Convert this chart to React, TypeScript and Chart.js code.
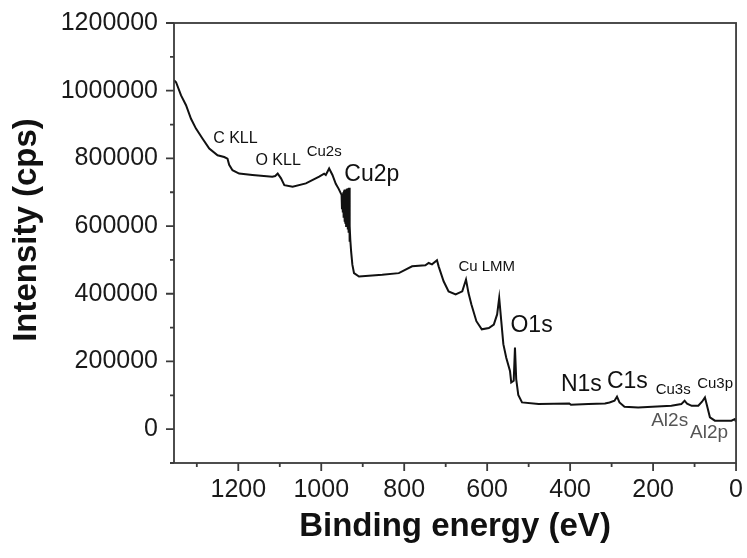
import React, { useEffect, useRef } from 'react';
import { Chart, registerables } from 'chart.js';

Chart.register(...registerables);

// Survey XPS spectrum: binding energy (eV) and intensity (cps)
const energy = [
  1355, 1350, 1338, 1326, 1314, 1302, 1286, 1270, 1250, 1234, 1226, 1222, 1214, 1198, 1166,
  1118, 1111, 1105, 1097, 1089, 1069, 1037, 1005, 993, 989, 981, 973, 965, 958, 951,
  950, 949, 948, 947, 946, 945, 944, 943, 942, 941, 940, 939, 938, 937, 936,
  935, 934, 933, 932, 931, 930, 928, 925, 921, 909, 853,
  813, 781, 749, 741, 733, 721, 717, 705, 693, 676, 660, 651, 645, 638, 626,
  613, 596, 584, 576, 571, 566, 561, 554, 545, 542, 536, 533, 530, 525, 516,
  476, 402, 398, 356, 316, 305, 293, 287, 281, 269, 236, 156, 132, 124, 118,
  107, 91, 82, 75, 71, 63, 51, 11, 3, 0,
];
const intensity = [
  1031000, 1025000, 986000, 957000, 917000, 888000, 858000, 829000, 809000, 804000, 799000, 781000, 765000, 755000, 751000,
  746000, 748000, 755000, 741000, 721000, 716000, 726000, 746000, 755000, 751000, 770000, 751000, 725000, 710000, 692000,
  650000, 690000, 640000, 700000, 625000, 705000, 613000, 708000, 610000, 706000, 600000, 710000, 605000, 711000, 590000,
  712000, 580000, 713000, 554000, 600000, 560000, 525000, 486000, 461000, 451000, 456000,
  461000, 481000, 484000, 491000, 487000, 499000, 481000, 437000, 407000, 398000, 407000, 442000, 402000, 368000, 319000,
  295000, 299000, 309000, 339000, 388000, 319000, 251000, 211000, 172000, 138000, 143000, 241000, 148000, 101000, 79000,
  74000, 76000, 72000, 74000, 76000, 79000, 84000, 96000, 79000, 66000, 64000, 69000, 74000, 84000, 75000,
  69000, 69000, 81000, 93500, 74000, 35000, 25000, 25000, 30000, 22000,
];

// Axis ranges and tick steps
const xMin = 0;
const xMax = 1355;
const yMin = -100000;
const yMax = 1200000;
const xMajorStep = 200;
const xMinorStep = 100;
const yMajorStep = 200000;
const yMinorStep = 100000;

const xTitle = 'Binding energy (eV)';
const yTitle = 'Intensity (cps)';

// Peak annotations, anchored in data units (energy, intensity)
const peakNames = ['C KLL', 'O KLL', 'Cu2s', 'Cu2p', 'Cu LMM', 'O1s', 'N1s', 'C1s', 'Cu3s', 'Cu3p', 'Al2s', 'Al2p'];
const peakEnergy = [1207, 1104, 993, 878, 601, 493, 373, 262, 151.5, 50.5, 160, 65];
const peakIntensity = [857400, 792700, 819100, 751500, 480900, 304400, 130900, 139700, 116200, 133800, 25000, -10300];

const FONT = "'Liberation Sans', Arial, Helvetica, sans-serif";
const AXIS_COLOR = '#3a3a3a';
const labelStyle: Record<string, { size: number; color: string }> = {
  'C KLL': { size: 16, color: '#111' },
  'O KLL': { size: 16, color: '#111' },
  'Cu2s': { size: 15, color: '#111' },
  'Cu2p': { size: 23, color: '#111' },
  'Cu LMM': { size: 15, color: '#111' },
  'O1s': { size: 23, color: '#111' },
  'N1s': { size: 23, color: '#111' },
  'C1s': { size: 23, color: '#111' },
  'Cu3s': { size: 15, color: '#111' },
  'Cu3p': { size: 15, color: '#111' },
  'Al2s': { size: 19, color: '#555' },
  'Al2p': { size: 19, color: '#555' },
};

const decorPlugin = {
  id: 'decor',
  afterDraw(chart: any) {
    const { ctx, chartArea: a, scales } = chart;
    const xs = scales.x;
    const ys = scales.y;
    ctx.save();
    ctx.strokeStyle = AXIS_COLOR;
    ctx.lineWidth = 1.8;
    ctx.strokeRect(a.left, a.top, a.right - a.left, a.bottom - a.top);
    ctx.beginPath();
    for (let v = xMin; v <= xMax; v += xMinorStep) {
      const px = xs.getPixelForValue(v);
      const len = v % xMajorStep === 0 ? 8 : 4;
      ctx.moveTo(px, a.bottom);
      ctx.lineTo(px, a.bottom + len);
    }
    for (let v = yMin; v <= yMax; v += yMinorStep) {
      const py = ys.getPixelForValue(v);
      const len = v % yMajorStep === 0 ? 8 : 4;
      ctx.moveTo(a.left, py);
      ctx.lineTo(a.left - len, py);
    }
    ctx.stroke();

    // y-axis title (sits a little above the plot centre, as in the original)
    ctx.save();
    ctx.translate(27, (a.top + a.bottom) / 2 - 13);
    ctx.rotate(-Math.PI / 2);
    ctx.textAlign = 'center';
    ctx.textBaseline = 'middle';
    ctx.fillStyle = '#111';
    ctx.font = `bold 33px ${FONT}`;
    ctx.fillText(yTitle, 0, 0);
    ctx.restore();

    ctx.textAlign = 'center';
    ctx.textBaseline = 'middle';
    peakNames.forEach((name, i) => {
      const st = labelStyle[name];
      ctx.font = `${st.size}px ${FONT}`;
      ctx.fillStyle = st.color;
      ctx.fillText(name, xs.getPixelForValue(peakEnergy[i]), ys.getPixelForValue(peakIntensity[i]));
    });
    ctx.restore();
  },
};

export default function App() {
  const ref = useRef<HTMLCanvasElement | null>(null);

  useEffect(() => {
    if (!ref.current) return;
    const points = energy.map((e, i) => ({ x: e, y: intensity[i] }));
    const chart = new Chart(ref.current, {
      type: 'line',
      data: {
        datasets: [
          {
            data: points,
            borderColor: '#111',
            borderWidth: 2,
            pointRadius: 0,
            tension: 0,
            fill: false,
          },
        ],
      },
      options: {
        responsive: false,
        animation: false,
        parsing: false,
        layout: { padding: { top: 21, right: 9, left: 0, bottom: 0 } },
        plugins: { legend: { display: false }, tooltip: { enabled: false } },
        scales: {
          x: {
            type: 'linear',
            reverse: true,
            min: xMin,
            max: xMax,
            afterFit: (s: any) => { s.height = 95; },
            border: { display: false },
            grid: { display: true, drawOnChartArea: false, drawTicks: true, tickLength: 8, tickColor: 'rgba(0,0,0,0)' },
            ticks: {
              stepSize: xMinorStep,
              includeBounds: false,
              autoSkip: false,
              maxRotation: 0,
              padding: 4,
              color: '#1a1a1a',
              font: { family: FONT, size: 25 },
              callback: (v: any) => (Math.round(v) % xMajorStep === 0 ? String(Math.round(v)) : ''),
            },
            title: {
              display: true,
              text: xTitle,
              color: '#111',
              font: { family: FONT, size: 33, weight: 'bold' },
              padding: { top: 0, bottom: 11 },
            },
          },
          y: {
            type: 'linear',
            min: yMin,
            max: yMax,
            afterFit: (s: any) => { s.width = 174; },
            border: { display: false },
            grid: { display: true, drawOnChartArea: false, drawTicks: true, tickLength: 8, tickColor: 'rgba(0,0,0,0)' },
            ticks: {
              stepSize: yMinorStep,
              autoSkip: false,
              padding: 8,
              color: '#1a1a1a',
              font: { family: FONT, size: 25 },
              callback: (v: any) => (Math.round(v) % yMajorStep === 0 ? String(Math.round(v)) : ''),
            },
            title: { display: false },
          },
        },
      },
      plugins: [decorPlugin],
    });
    return () => chart.destroy();
  }, []);

  return (
    <div style={{ position: 'absolute', left: 0, top: 0, width: 747, height: 558, background: '#fff' }}>
      <canvas ref={ref} width={747} height={558} style={{ display: 'block', width: 747, height: 558 }} />
    </div>
  );
}
